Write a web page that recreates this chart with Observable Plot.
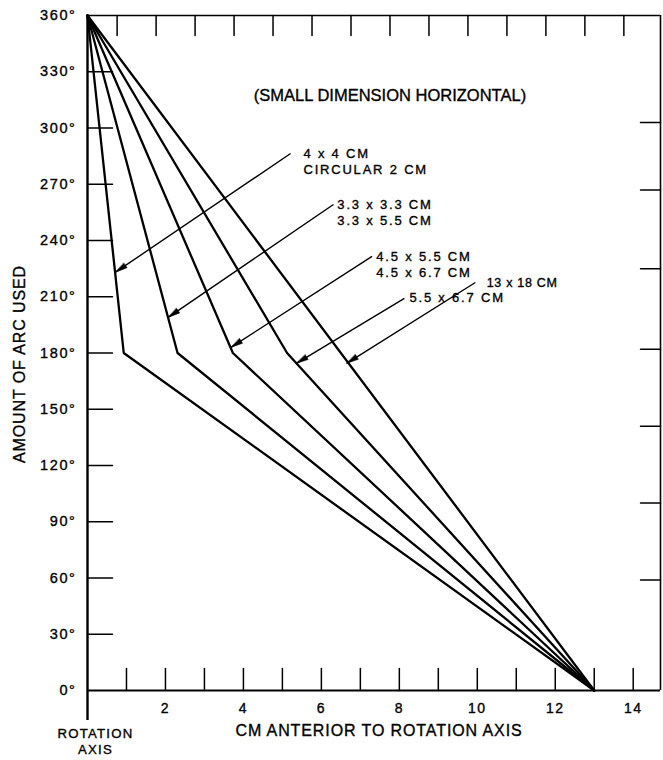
<!DOCTYPE html>
<html><head><meta charset="utf-8">
<script src="https://cdn.jsdelivr.net/npm/d3@7"></script>
<script src="https://cdn.jsdelivr.net/npm/@observablehq/plot@0.6"></script>
<style>body{margin:0;background:#fff}</style>
</head><body><div id="chart"></div>
<script>
// ---- data ----
const seriesNames = ["4 x 4 CM / CIRCULAR 2 CM", "3.3 x 3.3 CM / 3.3 x 5.5 CM", "4.5 x 5.5 CM / 4.5 x 6.7 CM", "5.5 x 6.7 CM", "13 x 18 CM"];
const startArc = 360;           // degrees at rotation axis
const kneeArc = 180;            // degrees at the bend
const kneeCm = [0.93, 2.31, 3.73, 5.12, null]; // cm where each line bends (13x18 is straight)
const endCm = 13;               // all lines reach 0° at 13 cm
const xTickValues = [1,2,3,4,5,6,7,8,9,10,11,12,13,14];
const xTickLabels = [2,4,6,8,10,12,14];
const yTickValues = [30,60,90,120,150,180,210,240,270,300,330];
const yTickLabels = [0,30,60,90,120,150,180,210,240,270,300,330,360];
const topTickValues = [0.76,1.76,2.76,3.76,4.76,5.76,6.76,7.76,8.76,9.76,10.76,11.76,12.76,13.76];
const rightTickValues = [303,267,225,182,141,100,59];
const annFirst = ["4 x 4 CM", "3.3 x 3.3 CM", "4.5 x 5.5 CM", "5.5 x 6.7 CM", "13 x 18 CM"];
const annSecond = ["CIRCULAR 2 CM", "3.3 x 5.5 CM", "4.5 x 6.7 CM", null, null];
const annTextX = [5.54, 6.41, 7.41, 8.26, 10.24];
const annTextY = [286.4, 259.2, 231.5, 209.2, 217.6];
const leaderFromX = [5.21, 6.31, 7.30, 8.13, 9.95];
const leaderFromY = [286.4, 259.2, 231.5, 209.1, 217.6];
const arrowTipX = [0.72, 2.07, 3.68, 5.36, 6.65];
const arrowTipY = [223.1, 199, 183, 174.5, 174.5];
const titleNote = "(SMALL DIMENSION HORIZONTAL)";
const xTitle = "CM ANTERIOR TO ROTATION AXIS";
const yTitle = "AMOUNT OF ARC USED";
const axisNote1 = "ROTATION", axisNote2 = "AXIS";

// ---- layout ----
const W = 663, H = 760, mL = 87, mR = 3, mT = 15, mB = 70, xMax = 14.7;
const kx = (W - mL - mR) / xMax, ky = (H - mT - mB) / 360;

const lineData = [];
seriesNames.forEach((s, i) => {
  lineData.push({s, x: 0, y: startArc});
  if (kneeCm[i] != null) lineData.push({s, x: kneeCm[i], y: kneeArc});
  lineData.push({s, x: endCm, y: 0});
});
const annRows = annFirst.map((t, i) => ({x: annTextX[i], y: annTextY[i], t, t2: annSecond[i], last: i === annFirst.length - 1}));
const leaders = annFirst.map((_, i) => ({
  x1: leaderFromX[i], y1: leaderFromY[i], x2: arrowTipX[i], y2: arrowTipY[i],
  rot: Math.atan2((arrowTipX[i] - leaderFromX[i]) * kx, (arrowTipY[i] - leaderFromY[i]) * ky) * 180 / Math.PI
}));

const stick = {draw(ctx, l) { ctx.moveTo(0, 0); ctx.lineTo(0, -l); }};
const head = {draw(ctx, l, r) { ctx.moveTo(0, 0); ctx.lineTo(-r, l); ctx.lineTo(r, l); ctx.closePath(); }};
const ink = {fill: "black", stroke: "black", strokeWidth: 0.35};

const chart = Plot.plot({
  width: W, height: H, marginLeft: mL, marginRight: mR, marginTop: mT, marginBottom: mB,
  x: {domain: [0, xMax], axis: null},
  y: {domain: [0, 360], axis: null},
  style: {fontFamily: "Liberation Sans", background: "white", color: "black", overflow: "visible"},
  marks: [
    // frame & axes
    Plot.ruleX([0], {y1: -16, y2: 360, strokeWidth: 2.4}),
    Plot.ruleY([0], {x1: 0, x2: xMax, strokeWidth: 2}),
    Plot.ruleY([360], {x1: 0, x2: xMax, strokeWidth: 1.6}),
    Plot.ruleX([xMax], {y1: 0, y2: 360, strokeWidth: 1.6}),
    Plot.vector(xTickValues, {x: d => d, y: 0, length: 22, rotate: 0, shape: stick, anchor: "start", strokeWidth: 1.5}),
    Plot.vector(yTickValues, {x: 0, y: d => d, length: 25, rotate: 90, shape: stick, anchor: "start", strokeWidth: 1.5}),
    Plot.vector(topTickValues, {x: d => d, y: 360, length: 20, rotate: 180, shape: stick, anchor: "start", strokeWidth: 1.5}),
    Plot.vector(rightTickValues, {x: xMax, y: d => d, length: 20, rotate: 270, shape: stick, anchor: "start", strokeWidth: 1.5}),
    // tick labels
    Plot.text(xTickLabels, {x: d => d, y: 0, text: d => String(d), dy: 18, fontSize: 14, ...ink}),
    Plot.text(yTickLabels, {x: 0, y: d => d, text: d => d + "°", dx: -11, textAnchor: "end", fontSize: 14.5, ...ink}),
    Plot.text([axisNote1], {x: 0, y: 0, text: d => d, dx: 8, dy: 43, fontSize: 13.2, ...ink}),
    Plot.text([axisNote2], {x: 0, y: 0, text: d => d, dx: 8, dy: 59, fontSize: 13.2, ...ink}),
    // titles
    Plot.text([xTitle], {frameAnchor: "bottom", lineAnchor: "middle", textAnchor: "middle", dx: 5, dy: 40, fontSize: 16, ...ink}),
    Plot.text([yTitle], {frameAnchor: "left", lineAnchor: "middle", textAnchor: "middle", dx: -68, dy: 11, rotate: -90, fontSize: 16, ...ink}),
    Plot.text([titleNote], {frameAnchor: "top", lineAnchor: "middle", textAnchor: "middle", dx: 16, dy: 80, fontSize: 16.5, ...ink}),
    // data lines
    Plot.line(lineData, {x: "x", y: "y", z: "s", stroke: "black", strokeWidth: 2.3, strokeLinejoin: "miter"}),
    // annotations
    Plot.link(leaders, {x1: "x1", y1: "y1", x2: "x2", y2: "y2", stroke: "black", strokeWidth: 1.4}),
    Plot.vector(leaders, {x: "x2", y: "y2", rotate: "rot", length: 12, r: 2.8, shape: head, anchor: "start", fill: "black", stroke: "black", strokeWidth: 0.5}),
    Plot.text(annRows.filter(d => !d.last), {x: "x", y: "y", text: "t", textAnchor: "start", fontSize: 13, ...ink}),
    Plot.text(annRows.filter(d => d.t2), {x: "x", y: "y", text: "t2", dy: 16.5, textAnchor: "start", fontSize: 13, ...ink}),
    Plot.text(annRows.filter(d => d.last), {x: "x", y: "y", text: "t", textAnchor: "start", fontSize: 12.5, ...ink})
  ]
});
document.getElementById("chart").appendChild(chart);

// letter spacing by font size (lettering in the reference is widely spaced)
const svg = d3.select(chart);
svg.selectAll('g[font-size="13"]').style("letter-spacing", "1.8px");
svg.selectAll('g[font-size="12.5"]').style("letter-spacing", "0.7px");
svg.selectAll('g[font-size="14"]').style("letter-spacing", "1.5px");
svg.selectAll('g[font-size="14.5"]').style("letter-spacing", "1.6px");
svg.selectAll('g[font-size="13.2"]').style("letter-spacing", "1.2px");
svg.selectAll('g[font-size="16"]').style("letter-spacing", "0.9px");
</script>
</body></html>
